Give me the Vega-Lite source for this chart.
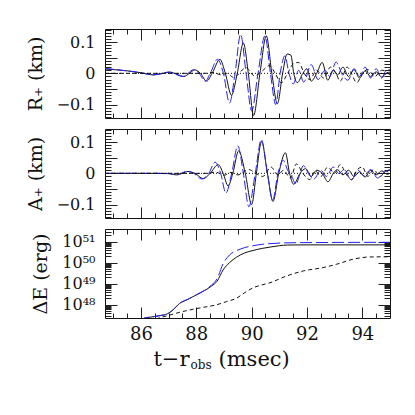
{
  "$schema": "https://vega.github.io/schema/vega-lite/v6.json",
  "padding": {"left": 25, "top": 28, "right": 5, "bottom": 5},
  "background": "white",
  "config": {
    "view": {"stroke": "#111", "strokeWidth": 1},
    "axis": {"labelFont": "DejaVu Serif", "labelFontSize": 16, "titleFont": "DejaVu Serif", "titleFontSize": 19, "titleFontWeight": "normal", "tickColor": "#222", "tickWidth": 1, "labelColor": "#111", "titleColor": "#111", "domain": false, "grid": false}
  },
  "datasets": {
    "R": [
      {"t":84.7,"v":0.014,"s":"k"},{"t":85.0,"v":0.012,"s":"k"},{"t":85.5,"v":0.008,"s":"k"},{"t":86.0,"v":0.002,"s":"k"},{"t":86.45,"v":-0.005,"s":"k"},{"t":86.75,"v":-0.001,"s":"k"},{"t":87.05,"v":0.004,"s":"k"},{"t":87.3,"v":-0.003,"s":"k"},{"t":87.55,"v":-0.01,"s":"k"},{"t":87.75,"v":0,"s":"k"},{"t":87.95,"v":0.011,"s":"k"},{"t":88.15,"v":0,"s":"k"},{"t":88.37,"v":-0.025,"s":"k"},{"t":88.6,"v":0.005,"s":"k"},{"t":88.85,"v":0.045,"s":"k"},{"t":89.05,"v":0,"s":"k"},{"t":89.27,"v":-0.07,"s":"k"},{"t":89.48,"v":0,"s":"k"},{"t":89.7,"v":0.097,"s":"k"},{"t":89.88,"v":0,"s":"k"},{"t":90.07,"v":-0.135,"s":"k"},{"t":90.3,"v":0,"s":"k"},{"t":90.53,"v":0.12,"s":"k"},{"t":90.73,"v":0,"s":"k"},{"t":90.93,"v":-0.097,"s":"k"},{"t":91.12,"v":0,"s":"k"},{"t":91.28,"v":0.062,"s":"k"},{"t":91.42,"v":0.058,"s":"k"},{"t":91.52,"v":0,"s":"k"},{"t":91.65,"v":-0.03,"s":"k"},{"t":91.85,"v":0,"s":"k"},{"t":92.0,"v":0.015,"s":"k"},{"t":92.15,"v":-0.025,"s":"k"},{"t":92.35,"v":0,"s":"k"},{"t":92.55,"v":0.035,"s":"k"},{"t":92.75,"v":-0.022,"s":"k"},{"t":92.95,"v":0.01,"s":"k"},{"t":93.1,"v":-0.005,"s":"k"},{"t":93.3,"v":0.02,"s":"k"},{"t":93.5,"v":-0.01,"s":"k"},{"t":93.7,"v":0.012,"s":"k"},{"t":93.9,"v":-0.015,"s":"k"},{"t":94.1,"v":0.008,"s":"k"},{"t":94.3,"v":-0.01,"s":"k"},{"t":94.5,"v":0.005,"s":"k"},{"t":94.7,"v":-0.012,"s":"k"},{"t":94.9,"v":0.002,"s":"k"},{"t":95.0,"v":0.004,"s":"k"},
      {"t":84.7,"v":0.016,"s":"b"},{"t":85.0,"v":0.013,"s":"b"},{"t":85.5,"v":0.008,"s":"b"},{"t":86.0,"v":0.002,"s":"b"},{"t":86.45,"v":-0.005,"s":"b"},{"t":86.72,"v":-0.001,"s":"b"},{"t":87.0,"v":0.004,"s":"b"},{"t":87.25,"v":-0.003,"s":"b"},{"t":87.5,"v":-0.01,"s":"b"},{"t":87.7,"v":0,"s":"b"},{"t":87.9,"v":0.012,"s":"b"},{"t":88.1,"v":0,"s":"b"},{"t":88.32,"v":-0.025,"s":"b"},{"t":88.53,"v":0.005,"s":"b"},{"t":88.76,"v":0.045,"s":"b"},{"t":88.98,"v":0,"s":"b"},{"t":89.2,"v":-0.095,"s":"b"},{"t":89.4,"v":0,"s":"b"},{"t":89.6,"v":0.125,"s":"b"},{"t":89.8,"v":0,"s":"b"},{"t":90.0,"v":-0.12,"s":"b"},{"t":90.23,"v":0,"s":"b"},{"t":90.48,"v":0.12,"s":"b"},{"t":90.68,"v":0,"s":"b"},{"t":90.87,"v":-0.1,"s":"b"},{"t":91.03,"v":0,"s":"b"},{"t":91.2,"v":0.056,"s":"b"},{"t":91.35,"v":0,"s":"b"},{"t":91.5,"v":-0.034,"s":"b"},{"t":91.7,"v":0.01,"s":"b"},{"t":91.88,"v":-0.028,"s":"b"},{"t":92.15,"v":0.028,"s":"b"},{"t":92.4,"v":-0.02,"s":"b"},{"t":92.65,"v":0.01,"s":"b"},{"t":92.82,"v":-0.01,"s":"b"},{"t":93.05,"v":0.036,"s":"b"},{"t":93.28,"v":-0.005,"s":"b"},{"t":93.48,"v":-0.022,"s":"b"},{"t":93.7,"v":0.015,"s":"b"},{"t":93.9,"v":-0.01,"s":"b"},{"t":94.1,"v":0.02,"s":"b"},{"t":94.3,"v":-0.015,"s":"b"},{"t":94.5,"v":0.015,"s":"b"},{"t":94.7,"v":-0.015,"s":"b"},{"t":94.85,"v":0.008,"s":"b"},{"t":95.0,"v":0.012,"s":"b"},
      {"t":84.7,"v":0,"s":"d"},{"t":88.3,"v":0,"s":"d"},{"t":88.6,"v":0.003,"s":"d"},{"t":88.9,"v":-0.005,"s":"d"},{"t":89.1,"v":0,"s":"d"},{"t":89.35,"v":-0.013,"s":"d"},{"t":89.8,"v":0.018,"s":"d"},{"t":90.1,"v":-0.008,"s":"d"},{"t":90.35,"v":0.005,"s":"d"},{"t":90.65,"v":0.025,"s":"d"},{"t":90.85,"v":0,"s":"d"},{"t":91.07,"v":-0.03,"s":"d"},{"t":91.3,"v":0,"s":"d"},{"t":91.5,"v":0.03,"s":"d"},{"t":91.7,"v":0.035,"s":"d"},{"t":91.9,"v":0,"s":"d"},{"t":92.1,"v":-0.02,"s":"d"},{"t":92.35,"v":0.01,"s":"d"},{"t":92.6,"v":-0.015,"s":"d"},{"t":92.85,"v":0.02,"s":"d"},{"t":93.05,"v":0,"s":"d"},{"t":93.2,"v":-0.025,"s":"d"},{"t":93.45,"v":0.02,"s":"d"},{"t":93.6,"v":0,"s":"d"},{"t":93.8,"v":-0.03,"s":"d"},{"t":94.0,"v":0,"s":"d"},{"t":94.2,"v":0.012,"s":"d"},{"t":94.45,"v":-0.01,"s":"d"},{"t":94.7,"v":0.01,"s":"d"},{"t":95.0,"v":-0.005,"s":"d"}
    ],
    "A": [
      {"t":84.7,"v":0,"s":"k"},{"t":86.5,"v":0,"s":"k"},{"t":87.0,"v":-0.001,"s":"k"},{"t":87.28,"v":-0.005,"s":"k"},{"t":87.5,"v":0,"s":"k"},{"t":87.7,"v":0.006,"s":"k"},{"t":87.95,"v":0,"s":"k"},{"t":88.25,"v":-0.017,"s":"k"},{"t":88.5,"v":0,"s":"k"},{"t":88.79,"v":0.028,"s":"k"},{"t":88.97,"v":0,"s":"k"},{"t":89.15,"v":-0.04,"s":"k"},{"t":89.32,"v":0,"s":"k"},{"t":89.53,"v":0.072,"s":"k"},{"t":89.77,"v":0,"s":"k"},{"t":90.0,"v":-0.1,"s":"k"},{"t":90.17,"v":0,"s":"k"},{"t":90.36,"v":0.102,"s":"k"},{"t":90.57,"v":0,"s":"k"},{"t":90.77,"v":-0.09,"s":"k"},{"t":90.98,"v":0,"s":"k"},{"t":91.22,"v":0.066,"s":"k"},{"t":91.37,"v":0,"s":"k"},{"t":91.52,"v":-0.035,"s":"k"},{"t":91.75,"v":0,"s":"k"},{"t":91.95,"v":0.015,"s":"k"},{"t":92.15,"v":-0.01,"s":"k"},{"t":92.35,"v":0.01,"s":"k"},{"t":92.55,"v":0,"s":"k"},{"t":92.76,"v":-0.027,"s":"k"},{"t":92.95,"v":0,"s":"k"},{"t":93.1,"v":0.012,"s":"k"},{"t":93.3,"v":-0.005,"s":"k"},{"t":93.5,"v":0.01,"s":"k"},{"t":93.7,"v":-0.01,"s":"k"},{"t":93.9,"v":0.005,"s":"k"},{"t":94.1,"v":-0.012,"s":"k"},{"t":94.3,"v":0.01,"s":"k"},{"t":94.5,"v":-0.005,"s":"k"},{"t":94.7,"v":0.008,"s":"k"},{"t":94.9,"v":-0.003,"s":"k"},{"t":95.0,"v":0,"s":"k"},
      {"t":84.7,"v":0,"s":"b"},{"t":86.5,"v":0,"s":"b"},{"t":87.0,"v":0,"s":"b"},{"t":87.25,"v":-0.004,"s":"b"},{"t":87.45,"v":0,"s":"b"},{"t":87.65,"v":0.007,"s":"b"},{"t":87.9,"v":0,"s":"b"},{"t":88.2,"v":-0.018,"s":"b"},{"t":88.45,"v":0,"s":"b"},{"t":88.68,"v":0.036,"s":"b"},{"t":88.88,"v":0,"s":"b"},{"t":89.07,"v":-0.063,"s":"b"},{"t":89.28,"v":0,"s":"b"},{"t":89.5,"v":0.088,"s":"b"},{"t":89.7,"v":0,"s":"b"},{"t":89.9,"v":-0.107,"s":"b"},{"t":90.13,"v":0,"s":"b"},{"t":90.35,"v":0.108,"s":"b"},{"t":90.57,"v":0,"s":"b"},{"t":90.76,"v":-0.085,"s":"b"},{"t":90.95,"v":0,"s":"b"},{"t":91.14,"v":0.042,"s":"b"},{"t":91.3,"v":0.01,"s":"b"},{"t":91.45,"v":-0.01,"s":"b"},{"t":91.6,"v":-0.035,"s":"b"},{"t":91.75,"v":0,"s":"b"},{"t":91.87,"v":0.025,"s":"b"},{"t":92.05,"v":0,"s":"b"},{"t":92.25,"v":-0.018,"s":"b"},{"t":92.5,"v":0.01,"s":"b"},{"t":92.7,"v":-0.01,"s":"b"},{"t":92.95,"v":0.02,"s":"b"},{"t":93.15,"v":0,"s":"b"},{"t":93.35,"v":0.012,"s":"b"},{"t":93.6,"v":-0.022,"s":"b"},{"t":93.85,"v":0.01,"s":"b"},{"t":94.05,"v":-0.008,"s":"b"},{"t":94.3,"v":0.012,"s":"b"},{"t":94.55,"v":-0.015,"s":"b"},{"t":94.8,"v":0.005,"s":"b"},{"t":95.0,"v":0.012,"s":"b"},
      {"t":84.7,"v":0,"s":"d"},{"t":88.4,"v":0,"s":"d"},{"t":88.7,"v":0.004,"s":"d"},{"t":89.0,"v":-0.006,"s":"d"},{"t":89.25,"v":0.003,"s":"d"},{"t":89.5,"v":-0.005,"s":"d"},{"t":89.9,"v":0.012,"s":"d"},{"t":90.15,"v":0,"s":"d"},{"t":90.4,"v":-0.01,"s":"d"},{"t":90.7,"v":0.02,"s":"d"},{"t":90.95,"v":-0.005,"s":"d"},{"t":91.15,"v":0.01,"s":"d"},{"t":91.4,"v":-0.015,"s":"d"},{"t":91.62,"v":0.03,"s":"d"},{"t":91.85,"v":0,"s":"d"},{"t":92.1,"v":-0.02,"s":"d"},{"t":92.3,"v":0.008,"s":"d"},{"t":92.5,"v":-0.01,"s":"d"},{"t":92.75,"v":0.02,"s":"d"},{"t":93.0,"v":0,"s":"d"},{"t":93.2,"v":0.028,"s":"d"},{"t":93.4,"v":0,"s":"d"},{"t":93.6,"v":-0.02,"s":"d"},{"t":93.8,"v":0.01,"s":"d"},{"t":94.0,"v":0.02,"s":"d"},{"t":94.2,"v":-0.01,"s":"d"},{"t":94.4,"v":0.012,"s":"d"},{"t":94.65,"v":-0.01,"s":"d"},{"t":94.85,"v":0.008,"s":"d"},{"t":95.0,"v":0,"s":"d"}
    ],
    "E": [
      {"t":85.9,"v":1.5e47,"s":"k"},{"t":86.1,"v":2.2e47,"s":"k"},{"t":86.4,"v":2.6e47,"s":"k"},{"t":86.7,"v":3.0e47,"s":"k"},{"t":86.95,"v":3.6e47,"s":"k"},{"t":87.15,"v":5.5e47,"s":"k"},{"t":87.4,"v":1.15e48,"s":"k"},{"t":87.7,"v":1.8e48,"s":"k"},{"t":88.0,"v":2.9e48,"s":"k"},{"t":88.3,"v":4.7e48,"s":"k"},{"t":88.55,"v":7.6e48,"s":"k"},{"t":88.75,"v":1.3e49,"s":"k"},{"t":88.97,"v":4.5e49,"s":"k"},{"t":89.2,"v":1.0e50,"s":"k"},{"t":89.45,"v":1.8e50,"s":"k"},{"t":89.75,"v":2.9e50,"s":"k"},{"t":90.05,"v":3.8e50,"s":"k"},{"t":90.4,"v":4.8e50,"s":"k"},{"t":90.7,"v":5.6e50,"s":"k"},{"t":91.0,"v":6.4e50,"s":"k"},{"t":91.3,"v":6.9e50,"s":"k"},{"t":92.0,"v":7.0e50,"s":"k"},{"t":95.0,"v":7.0e50,"s":"k"},
      {"t":85.9,"v":1.5e47,"s":"b"},{"t":86.1,"v":2.2e47,"s":"b"},{"t":86.4,"v":2.6e47,"s":"b"},{"t":86.7,"v":3.0e47,"s":"b"},{"t":86.95,"v":3.6e47,"s":"b"},{"t":87.15,"v":5.5e47,"s":"b"},{"t":87.4,"v":1.15e48,"s":"b"},{"t":87.7,"v":1.8e48,"s":"b"},{"t":88.0,"v":2.9e48,"s":"b"},{"t":88.3,"v":4.8e48,"s":"b"},{"t":88.55,"v":8.5e48,"s":"b"},{"t":88.75,"v":1.7e49,"s":"b"},{"t":88.97,"v":9.0e49,"s":"b"},{"t":89.2,"v":2.3e50,"s":"b"},{"t":89.45,"v":3.7e50,"s":"b"},{"t":89.75,"v":5.2e50,"s":"b"},{"t":90.05,"v":6.4e50,"s":"b"},{"t":90.4,"v":7.5e50,"s":"b"},{"t":90.7,"v":8.1e50,"s":"b"},{"t":91.2,"v":8.7e50,"s":"b"},{"t":92.0,"v":9.0e50,"s":"b"},{"t":95.0,"v":9.3e50,"s":"b"},
      {"t":86.3,"v":1.6e47,"s":"d"},{"t":86.7,"v":2.4e47,"s":"d"},{"t":87.05,"v":3.2e47,"s":"d"},{"t":87.4,"v":4.3e47,"s":"d"},{"t":87.77,"v":5.6e47,"s":"d"},{"t":88.2,"v":7.2e47,"s":"d"},{"t":88.73,"v":9.8e47,"s":"d"},{"t":89.1,"v":1.4e48,"s":"d"},{"t":89.45,"v":2.0e48,"s":"d"},{"t":89.75,"v":3.7e48,"s":"d"},{"t":90.05,"v":6.3e48,"s":"d"},{"t":90.35,"v":8.5e48,"s":"d"},{"t":90.66,"v":1.1e49,"s":"d"},{"t":91.26,"v":2.3e49,"s":"d"},{"t":91.86,"v":4.0e49,"s":"d"},{"t":92.58,"v":5.8e49,"s":"d"},{"t":93.06,"v":8.3e49,"s":"d"},{"t":93.66,"v":1.45e50,"s":"d"},{"t":94.27,"v":1.86e50,"s":"d"},{"t":95.0,"v":1.9e50,"s":"d"}
    ],
    "Z": [{"t":84.7,"v":0},{"t":95.0,"v":0}]
  },
  "vconcat": [
    {
      "width": 285, "height": 89,
      "resolve": {"axis": {"x": "independent", "y": "independent"}},
      "layer": [
        {"data": {"name": "R"}, "transform": [{"filter": "datum.s=='k'"}],
         "mark": {"type": "line", "color": "#111", "strokeWidth": 1, "interpolate": "monotone", "clip": true},
         "encoding": {
           "x": {"field": "t", "type": "quantitative", "scale": {"domain": [84.7, 95], "nice": false, "zero": false}, "axis": {"orient": "bottom", "values": [86, 88, 90, 92, 94], "offset": -11, "tickSize": 11, "labels": false, "title": null}},
           "y": {"field": "v", "type": "quantitative", "scale": {"domain": [-0.143, 0.142], "nice": false, "zero": false}, "axis": {"orient": "left", "values": [-0.1, -0.05, 0, 0.05, 0.1], "offset": -12, "tickSize": 12, "format": "~g", "labelPadding": 10, "labelBaseline": "middle", "title": "R₊ (km)", "titlePadding": 11}}
         }},
        {"data": {"name": "R"}, "transform": [{"filter": "datum.s=='b'"}],
         "mark": {"type": "line", "color": "#2020ff", "strokeWidth": 1, "strokeDash": [9, 3], "interpolate": "monotone", "clip": true},
         "encoding": {
           "x": {"field": "t", "type": "quantitative", "scale": {"domain": [84.7, 95], "nice": false, "zero": false}, "axis": {"orient": "top", "values": [86, 88, 90, 92, 94], "offset": -11, "tickSize": 11, "labels": false, "title": null}},
           "y": {"field": "v", "type": "quantitative", "scale": {"domain": [-0.143, 0.142], "nice": false, "zero": false}, "axis": {"orient": "right", "values": [-0.1, -0.05, 0, 0.05, 0.1], "offset": -12, "tickSize": 12, "labels": false, "title": null}}
         }},
        {"data": {"name": "R"}, "transform": [{"filter": "datum.s=='d'"}],
         "mark": {"type": "line", "color": "#111", "strokeWidth": 1, "strokeDash": [4, 3], "interpolate": "monotone", "clip": true},
         "encoding": {
           "x": {"field": "t", "type": "quantitative", "scale": {"domain": [84.7, 95], "nice": false, "zero": false}, "axis": {"orient": "bottom", "values": [85, 85.5, 86.5, 87, 87.5, 88.5, 89, 89.5, 90.5, 91, 91.5, 92.5, 93, 93.5, 94.5], "offset": -5, "tickSize": 5, "labels": false, "title": null}},
           "y": {"field": "v", "type": "quantitative", "scale": {"domain": [-0.143, 0.142], "nice": false, "zero": false}, "axis": {"orient": "left", "values": [-0.14, -0.13, -0.12, -0.11, -0.09, -0.08, -0.07, -0.06, -0.04, -0.03, -0.02, -0.01, 0.01, 0.02, 0.03, 0.04, 0.06, 0.07, 0.08, 0.09, 0.11, 0.12, 0.13, 0.14], "offset": -6, "tickSize": 6, "labels": false, "title": null}}
         }},
        {"data": {"name": "Z"},
         "mark": {"type": "line", "color": "#111", "strokeWidth": 1, "strokeDash": [1, 2]},
         "encoding": {
           "x": {"field": "t", "type": "quantitative", "scale": {"domain": [84.7, 95], "nice": false, "zero": false}, "axis": {"orient": "top", "values": [85, 85.5, 86.5, 87, 87.5, 88.5, 89, 89.5, 90.5, 91, 91.5, 92.5, 93, 93.5, 94.5], "offset": -5, "tickSize": 5, "labels": false, "title": null}},
           "y": {"field": "v", "type": "quantitative", "scale": {"domain": [-0.143, 0.142], "nice": false, "zero": false}, "axis": {"orient": "right", "values": [-0.14, -0.13, -0.12, -0.11, -0.09, -0.08, -0.07, -0.06, -0.04, -0.03, -0.02, -0.01, 0.01, 0.02, 0.03, 0.04, 0.06, 0.07, 0.08, 0.09, 0.11, 0.12, 0.13, 0.14], "offset": -6, "tickSize": 6, "labels": false, "title": null}}
         }}
      ]
    },
    {
      "width": 285, "height": 89,
      "resolve": {"axis": {"x": "independent", "y": "independent"}},
      "layer": [
        {"data": {"name": "A"}, "transform": [{"filter": "datum.s=='k'"}],
         "mark": {"type": "line", "color": "#111", "strokeWidth": 1, "interpolate": "monotone", "clip": true},
         "encoding": {
           "x": {"field": "t", "type": "quantitative", "scale": {"domain": [84.7, 95], "nice": false, "zero": false}, "axis": {"orient": "bottom", "values": [86, 88, 90, 92, 94], "offset": -11, "tickSize": 11, "labels": false, "title": null}},
           "y": {"field": "v", "type": "quantitative", "scale": {"domain": [-0.143, 0.142], "nice": false, "zero": false}, "axis": {"orient": "left", "values": [-0.1, -0.05, 0, 0.05, 0.1], "offset": -12, "tickSize": 12, "format": "~g", "labelPadding": 10, "labelBaseline": "middle", "title": "A₊ (km)", "titlePadding": 11}}
         }},
        {"data": {"name": "A"}, "transform": [{"filter": "datum.s=='b'"}],
         "mark": {"type": "line", "color": "#2020ff", "strokeWidth": 1, "strokeDash": [9, 3], "interpolate": "monotone", "clip": true},
         "encoding": {
           "x": {"field": "t", "type": "quantitative", "scale": {"domain": [84.7, 95], "nice": false, "zero": false}, "axis": {"orient": "top", "values": [86, 88, 90, 92, 94], "offset": -11, "tickSize": 11, "labels": false, "title": null}},
           "y": {"field": "v", "type": "quantitative", "scale": {"domain": [-0.143, 0.142], "nice": false, "zero": false}, "axis": {"orient": "right", "values": [-0.1, -0.05, 0, 0.05, 0.1], "offset": -12, "tickSize": 12, "labels": false, "title": null}}
         }},
        {"data": {"name": "A"}, "transform": [{"filter": "datum.s=='d'"}],
         "mark": {"type": "line", "color": "#111", "strokeWidth": 1, "strokeDash": [4, 3], "interpolate": "monotone", "clip": true},
         "encoding": {
           "x": {"field": "t", "type": "quantitative", "scale": {"domain": [84.7, 95], "nice": false, "zero": false}, "axis": {"orient": "bottom", "values": [85, 85.5, 86.5, 87, 87.5, 88.5, 89, 89.5, 90.5, 91, 91.5, 92.5, 93, 93.5, 94.5], "offset": -5, "tickSize": 5, "labels": false, "title": null}},
           "y": {"field": "v", "type": "quantitative", "scale": {"domain": [-0.143, 0.142], "nice": false, "zero": false}, "axis": {"orient": "left", "values": [-0.14, -0.13, -0.12, -0.11, -0.09, -0.08, -0.07, -0.06, -0.04, -0.03, -0.02, -0.01, 0.01, 0.02, 0.03, 0.04, 0.06, 0.07, 0.08, 0.09, 0.11, 0.12, 0.13, 0.14], "offset": -6, "tickSize": 6, "labels": false, "title": null}}
         }},
        {"data": {"name": "Z"},
         "mark": {"type": "line", "color": "#111", "strokeWidth": 1, "strokeDash": [1, 2]},
         "encoding": {
           "x": {"field": "t", "type": "quantitative", "scale": {"domain": [84.7, 95], "nice": false, "zero": false}, "axis": {"orient": "top", "values": [85, 85.5, 86.5, 87, 87.5, 88.5, 89, 89.5, 90.5, 91, 91.5, 92.5, 93, 93.5, 94.5], "offset": -5, "tickSize": 5, "labels": false, "title": null}},
           "y": {"field": "v", "type": "quantitative", "scale": {"domain": [-0.143, 0.142], "nice": false, "zero": false}, "axis": {"orient": "right", "values": [-0.14, -0.13, -0.12, -0.11, -0.09, -0.08, -0.07, -0.06, -0.04, -0.03, -0.02, -0.01, 0.01, 0.02, 0.03, 0.04, 0.06, 0.07, 0.08, 0.09, 0.11, 0.12, 0.13, 0.14], "offset": -6, "tickSize": 6, "labels": false, "title": null}}
         }}
      ]
    },
    {
      "width": 285, "height": 89,
      "resolve": {"axis": {"x": "independent", "y": "independent"}},
      "layer": [
        {"data": {"name": "E"}, "transform": [{"filter": "datum.s=='k'"}],
         "mark": {"type": "line", "color": "#111", "strokeWidth": 1, "interpolate": "monotone", "clip": true},
         "encoding": {
           "x": {"field": "t", "type": "quantitative", "scale": {"domain": [84.7, 95], "nice": false, "zero": false}, "axis": {"orient": "bottom", "values": [86, 88, 90, 92, 94], "offset": -11, "tickSize": 11, "labels": true, "format": "d", "labelFontSize": 18, "labelPadding": 7, "labelDx": 4, "title": "t−r", "titleFontSize": 21, "titleX": 84, "titleY": 58, "titleAlign": "right", "titleBaseline": "alphabetic", "titleAngle": 0}},
           "y": {"field": "v", "type": "quantitative", "scale": {"type": "log", "domain": [2.3e47, 4e51], "nice": false}, "axis": {"orient": "left", "values": [1e48, 1e49, 1e50, 1e51], "offset": -12, "tickSize": 12, "labelPadding": 10, "labelBaseline": "middle", "labelExpr": "round(log(datum.value)/LN10) == 48 ? '10⁴⁸' : round(log(datum.value)/LN10) == 49 ? '10⁴⁹' : round(log(datum.value)/LN10) == 50 ? '10⁵⁰' : '10⁵¹'", "title": "ΔE (erg)", "titlePadding": 11}}
         }},
        {"data": {"name": "E"}, "transform": [{"filter": "datum.s=='b'"}],
         "mark": {"type": "line", "color": "#2020ff", "strokeWidth": 1, "strokeDash": [12, 4], "interpolate": "monotone", "clip": true},
         "encoding": {
           "x": {"field": "t", "type": "quantitative", "scale": {"domain": [84.7, 95], "nice": false, "zero": false}, "axis": {"orient": "top", "values": [86, 88, 90, 92, 94], "offset": -11, "tickSize": 11, "labels": false, "title": "obs", "titleFontSize": 12, "titleX": 85, "titleY": 128, "titleAlign": "left", "titleBaseline": "alphabetic", "titleAngle": 0}},
           "y": {"field": "v", "type": "quantitative", "scale": {"type": "log", "domain": [2.3e47, 4e51], "nice": false}, "axis": {"orient": "right", "values": [1e48, 1e49, 1e50, 1e51], "offset": -12, "tickSize": 12, "labels": false, "title": null}}
         }},
        {"data": {"name": "E"}, "transform": [{"filter": "datum.s=='d'"}],
         "mark": {"type": "line", "color": "#111", "strokeWidth": 1, "strokeDash": [4, 3], "interpolate": "monotone", "clip": true},
         "encoding": {
           "x": {"field": "t", "type": "quantitative", "scale": {"domain": [84.7, 95], "nice": false, "zero": false}, "axis": {"orient": "bottom", "values": [85, 85.5, 86.5, 87, 87.5, 88.5, 89, 89.5, 90.5, 91, 91.5, 92.5, 93, 93.5, 94.5], "offset": -5, "tickSize": 5, "labels": false, "title": "(msec)", "titleFontSize": 21, "titleX": 113, "titleY": 52, "titleAlign": "left", "titleBaseline": "alphabetic", "titleAngle": 0}},
           "y": {"field": "v", "type": "quantitative", "scale": {"type": "log", "domain": [2.3e47, 4e51], "nice": false}, "axis": {"orient": "left", "values": [3e47, 4e47, 5e47, 6e47, 7e47, 8e47, 9e47, 2e48, 3e48, 4e48, 5e48, 6e48, 7e48, 8e48, 9e48, 2e49, 3e49, 4e49, 5e49, 6e49, 7e49, 8e49, 9e49, 2e50, 3e50, 4e50, 5e50, 6e50, 7e50, 8e50, 9e50, 2e51, 3e51], "offset": -6, "tickSize": 6, "labels": false, "title": null}}
         }},
        {"data": {"name": "E"}, "transform": [{"filter": "datum.s=='k'"}],
         "mark": {"type": "line", "opacity": 0, "clip": true},
         "encoding": {
           "x": {"field": "t", "type": "quantitative", "scale": {"domain": [84.7, 95], "nice": false, "zero": false}, "axis": {"orient": "top", "values": [85, 85.5, 86.5, 87, 87.5, 88.5, 89, 89.5, 90.5, 91, 91.5, 92.5, 93, 93.5, 94.5], "offset": -5, "tickSize": 5, "labels": false, "title": null}},
           "y": {"field": "v", "type": "quantitative", "scale": {"type": "log", "domain": [2.3e47, 4e51], "nice": false}, "axis": {"orient": "right", "values": [3e47, 4e47, 5e47, 6e47, 7e47, 8e47, 9e47, 2e48, 3e48, 4e48, 5e48, 6e48, 7e48, 8e48, 9e48, 2e49, 3e49, 4e49, 5e49, 6e49, 7e49, 8e49, 9e49, 2e50, 3e50, 4e50, 5e50, 6e50, 7e50, 8e50, 9e50, 2e51, 3e51], "offset": -6, "tickSize": 6, "labels": false, "title": null}}
         }}
      ]
    }
  ],
  "spacing": 9
}
